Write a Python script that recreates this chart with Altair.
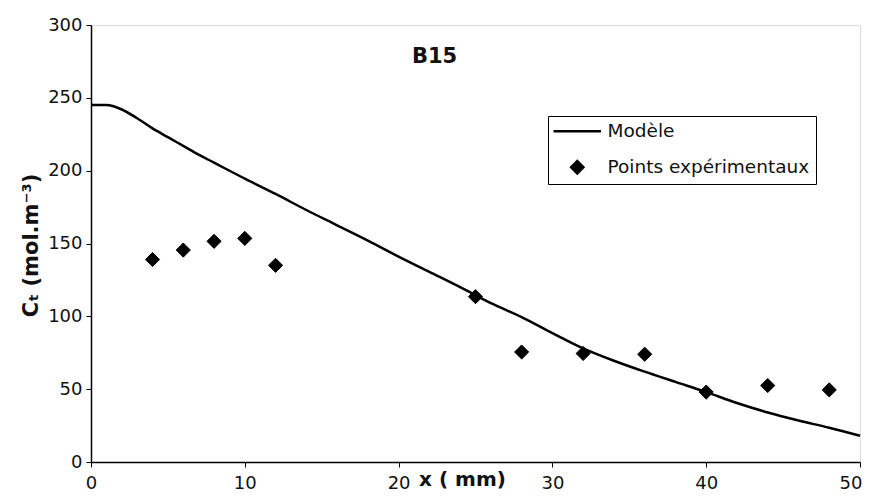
import altair as alt
import pandas as pd

# Model curve
model_x = [0, 1, 2, 3, 4, 5, 6, 7, 8, 10, 12, 14, 16, 18, 20, 22, 24, 26, 28, 30, 32, 34, 36, 38, 40, 42, 44, 46, 48, 50]
model_y = [245, 245, 242, 236, 229, 223, 217, 211, 205.5, 194.5, 184, 173, 162.5, 152, 141, 130.5, 120, 109, 99.5, 88.5, 78, 69.5, 62, 55, 48, 40.5, 34, 28.5, 23.5, 18]

# Experimental points
exp_x = [4, 6, 8, 10, 12, 25, 28, 32, 36, 40, 44, 48]
exp_y = [139, 145.5, 151.5, 153.5, 135, 113.5, 75.5, 74.5, 74, 48, 52.5, 49.5]

series = ["Modèle", "Points expérimentaux"]
x_ticks = [0, 10, 20, 30, 40, 50]
y_ticks = [0, 50, 100, 150, 200, 250, 300]

model_df = pd.DataFrame({"x": model_x, "y": model_y, "s": series[0]})
exp_df = pd.DataFrame({"x": exp_x, "y": exp_y, "s": series[1]})

FONT = "DejaVu Sans"

x_scale = alt.Scale(domain=[0, 50], nice=False, zero=False)
y_scale = alt.Scale(domain=[0, 300], nice=False)

x_axis = alt.Axis(
    values=x_ticks, title="x ( mm)", grid=False,
    labelFont=FONT, labelFontSize=18, labelColor="#111", labelPadding=7,
    labelAlign={"condition": {"test": "datum.value == 50", "value": "right"}, "value": "center"},
    labelOffset={"condition": {"test": "datum.value == 50", "value": 2}, "value": 0},
    tickSize=5, tickColor="#000", domainColor="#000", domainWidth=1.5,
    titleFont=FONT, titleFontSize=20, titleFontWeight="bold", titleColor="#111",
    titleX=371, titleY=17, titleBaseline="middle", titleAlign="center",
    labelFlush=False,
)
y_axis = alt.Axis(
    values=y_ticks, title="Cₜ (mol.m⁻³)", grid=False,
    labelFont=FONT, labelFontSize=18, labelColor="#111", labelPadding=4,
    tickSize=5, tickColor="#000", domainColor="#000", domainWidth=1.5,
    titleFont=FONT, titleFontSize=21, titleFontWeight="bold", titleColor="#111",
    titleX=-60, titleY=220, titleBaseline="middle", titleAlign="center", titleAngle=270,
)

line = alt.Chart(model_df).mark_line(color="black", strokeWidth=2.5, interpolate="monotone").encode(
    x=alt.X("x:Q", scale=x_scale, axis=x_axis),
    y=alt.Y("y:Q", scale=y_scale, axis=y_axis),
)

points = alt.Chart(exp_df).mark_point(
    filled=True, color="black", stroke="black", strokeWidth=1, opacity=1, size=200
).encode(
    x=alt.X("x:Q", scale=x_scale),
    y=alt.Y("y:Q", scale=y_scale),
    shape=alt.Shape(
        "s:N",
        scale=alt.Scale(domain=series, range=["M-3,-0.16H3V0.16H-3Z", "diamond"]),
        legend=alt.Legend(
            title=None, orient="none", legendX=457, legendY=91,
            padding=6, rowPadding=16, symbolOffset=14, labelOffset=21,
            labelFont=FONT, labelFontSize=18.5, labelColor="#111", labelLimit=400,
            symbolSize=250, symbolFillColor="black", symbolStrokeColor="black",
            symbolStrokeWidth=1, symbolOpacity=1,
            strokeColor="black",
        ),
    ),
)

chart = alt.layer(line, points).properties(
    width=769, height=437,
    title=alt.TitleParams(
        text="B15", font=FONT, fontSize=21, fontWeight="bold", color="#111",
        anchor="middle", offset=-68, baseline="alphabetic", dx=-41,
    ),
    autosize=alt.AutoSizeParams(type="none"),
    padding={"left": 83, "top": 17, "right": 2, "bottom": 30},
).configure_view(
    stroke="#222", strokeWidth=1.2
).configure(background="white")

chart.save("out.html", embed_options={"renderer": "svg", "actions": False})
